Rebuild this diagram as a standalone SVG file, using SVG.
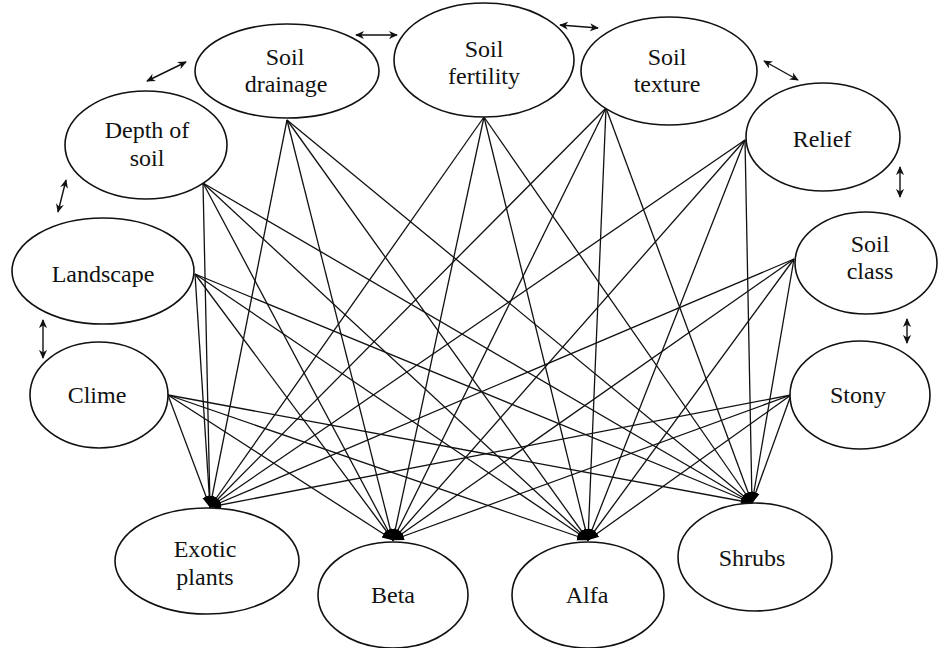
<svg xmlns="http://www.w3.org/2000/svg" width="939" height="648" viewBox="0 0 939 648">
<style>
.n ellipse{fill:#fff;stroke:#111;stroke-width:1.6}
.n text{font-size:24px;fill:#111;text-anchor:middle}
.c line{stroke:#111;stroke-width:1.3}
.b line{stroke:#111;stroke-width:1.4}
</style>
<defs>
<marker id="ah" viewBox="0 0 12 10" refX="11" refY="5" markerWidth="12" markerHeight="10" markerUnits="userSpaceOnUse" orient="auto"><path d="M0,1 L12,5 L0,9 z" fill="#000"/></marker>
<marker id="bh" viewBox="0 0 10 10" refX="9" refY="5" markerWidth="9" markerHeight="9" markerUnits="userSpaceOnUse" orient="auto-start-reverse"><path d="M0,0.5 L10,5 L0,9.5 L3,5 z" fill="#111"/></marker>
</defs>
<rect width="939" height="648" fill="#fff"/>
<g id="connectors">
<g class="c" marker-end="url(#ah)">
<line x1="203" y1="183" x2="210" y2="507"/><line x1="203" y1="183" x2="393" y2="540"/><line x1="203" y1="183" x2="588" y2="540"/><line x1="203" y1="183" x2="752" y2="503"/>
<line x1="287" y1="120" x2="210" y2="507"/><line x1="287" y1="120" x2="393" y2="540"/><line x1="287" y1="120" x2="588" y2="540"/><line x1="287" y1="120" x2="752" y2="503"/>
<line x1="484" y1="117" x2="210" y2="507"/><line x1="484" y1="117" x2="393" y2="540"/><line x1="484" y1="117" x2="588" y2="540"/><line x1="484" y1="117" x2="752" y2="503"/>
<line x1="606" y1="108" x2="210" y2="507"/><line x1="606" y1="108" x2="393" y2="540"/><line x1="606" y1="108" x2="588" y2="540"/><line x1="606" y1="108" x2="752" y2="503"/>
<line x1="745" y1="140" x2="210" y2="507"/><line x1="745" y1="140" x2="393" y2="540"/><line x1="745" y1="140" x2="588" y2="540"/><line x1="745" y1="140" x2="752" y2="503"/>
<line x1="195" y1="274" x2="210" y2="507"/><line x1="195" y1="274" x2="393" y2="540"/><line x1="195" y1="274" x2="588" y2="540"/><line x1="195" y1="274" x2="752" y2="503"/>
<line x1="168" y1="395" x2="210" y2="507"/><line x1="168" y1="395" x2="393" y2="540"/><line x1="168" y1="395" x2="588" y2="540"/><line x1="168" y1="395" x2="752" y2="503"/>
<line x1="794" y1="259" x2="210" y2="507"/><line x1="794" y1="259" x2="393" y2="540"/><line x1="794" y1="259" x2="588" y2="540"/><line x1="794" y1="259" x2="752" y2="503"/>
<line x1="791" y1="395" x2="210" y2="507"/><line x1="791" y1="395" x2="393" y2="540"/><line x1="791" y1="395" x2="588" y2="540"/><line x1="791" y1="395" x2="752" y2="503"/>
</g>
<g class="b" marker-start="url(#bh)" marker-end="url(#bh)">
<line x1="147" y1="81" x2="186" y2="62"/>
<line x1="356" y1="35" x2="397" y2="35"/>
<line x1="560" y1="25" x2="598" y2="28"/>
<line x1="764" y1="61" x2="798" y2="80"/>
<line x1="900" y1="167" x2="900" y2="197"/>
<line x1="907" y1="319" x2="907" y2="343"/>
<line x1="66" y1="180" x2="58" y2="212"/>
<line x1="43" y1="320" x2="43" y2="358"/>
</g>
</g>
<g font-family="Liberation Serif, Times New Roman, serif">
<g id="soil-drainage" class="n"><ellipse cx="287" cy="71" rx="92" ry="47"/><text x="285" y="65">Soil</text><text x="286" y="92">drainage</text></g>
<g id="soil-fertility" class="n"><ellipse cx="484" cy="60" rx="90" ry="57"/><text x="484" y="57">Soil</text><text x="484" y="84">fertility</text></g>
<g id="soil-texture" class="n"><ellipse cx="669" cy="71" rx="88" ry="54"/><text x="667" y="65">Soil</text><text x="667" y="92">texture</text></g>
<g id="relief" class="n"><ellipse cx="823" cy="137" rx="77" ry="54"/><text x="822" y="147">Relief</text></g>
<g id="depth-of-soil" class="n"><ellipse cx="146" cy="145" rx="81" ry="54"/><text x="147" y="138">Depth of</text><text x="147" y="166">soil</text></g>
<g id="landscape" class="n"><ellipse cx="103" cy="271" rx="91" ry="53"/><text x="103" y="282">Landscape</text></g>
<g id="clime" class="n"><ellipse cx="99" cy="395" rx="69" ry="53"/><text x="97" y="403">Clime</text></g>
<g id="soil-class" class="n"><ellipse cx="866" cy="263" rx="71" ry="51"/><text x="870" y="252">Soil</text><text x="870" y="279">class</text></g>
<g id="stony" class="n"><ellipse cx="860" cy="395" rx="70" ry="54"/><text x="858" y="403">Stony</text></g>
<g id="exotic-plants" class="n"><ellipse cx="207" cy="561" rx="92" ry="53"/><text x="205" y="557">Exotic</text><text x="205" y="585">plants</text></g>
<g id="beta" class="n"><ellipse cx="393" cy="595" rx="75" ry="53"/><text x="393" y="603">Beta</text></g>
<g id="alfa" class="n"><ellipse cx="588" cy="595" rx="76" ry="53"/><text x="587" y="603">Alfa</text></g>
<g id="shrubs" class="n"><ellipse cx="755" cy="557" rx="77" ry="54"/><text x="752" y="566">Shrubs</text></g>
</g>
</svg>
